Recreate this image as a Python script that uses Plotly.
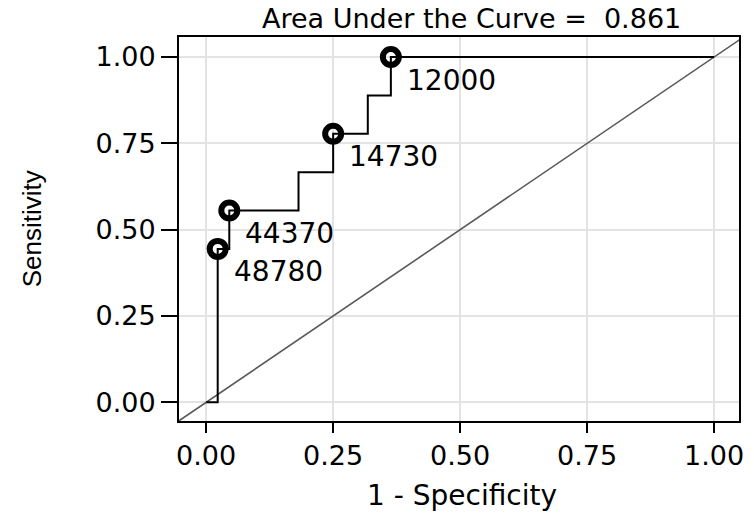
import plotly.graph_objects as go

# ROC curve points (1 - specificity, sensitivity)
roc_fpr = [0.0, 0.0227, 0.0455, 0.1818, 0.25, 0.3182, 0.3636, 1.0]
roc_tpr = [0.0, 0.4444, 0.5556, 0.6667, 0.7778, 0.8889, 1.0, 1.0]

# labelled cut points
cut_labels = ["48780", "44370", "14730", "12000"]
cut_fpr = [0.0227, 0.0455, 0.25, 0.3636]
cut_tpr = [0.4444, 0.5556, 0.7778, 1.0]

auc_value = 0.861
tick_vals = [0, 0.25, 0.5, 0.75, 1.0]
x_range = [-0.0535, 1.049]
y_range = [-0.054, 1.058]
ref_line = [-0.2, 1.2]

FONT = "DejaVu Sans"
FS = 27

fig = go.Figure()
fig.add_trace(go.Scatter(x=ref_line, y=ref_line, mode="lines",
                         line=dict(color="#595959", width=1.6),
                         hoverinfo="skip", showlegend=False))
fig.add_trace(go.Scatter(x=roc_fpr, y=roc_tpr, mode="lines",
                         line=dict(color="black", width=2, shape="hv"),
                         showlegend=False))
fig.add_trace(go.Scatter(x=cut_fpr, y=cut_tpr, mode="markers",
                         marker=dict(symbol="circle-open", size=16, color="black",
                                     line=dict(width=6, color="black")),
                         showlegend=False))

for lab, xv, yv in zip(cut_labels, cut_fpr, cut_tpr):
    fig.add_annotation(x=xv, y=yv, text=lab, showarrow=False,
                       xanchor="left", yanchor="middle", xshift=14, yshift=-23,
                       font=dict(family=FONT, size=28, color="black"))

fig.add_annotation(xref="paper", yref="paper", x=0.5216, y=1.0, yshift=19,
                   text="Area Under the Curve =\u00a0\u00a0" + f"{auc_value:.3f}",
                   showarrow=False, xanchor="center", yanchor="middle",
                   font=dict(family=FONT, size=27, color="black"))
fig.add_annotation(xref="paper", yref="paper", x=0.5053, y=-0.1935,
                   text="1 - Specificity", showarrow=False,
                   xanchor="center", yanchor="middle",
                   font=dict(family=FONT, size=28, color="black"))
fig.add_annotation(xref="paper", yref="paper", x=-0.262, y=0.5,
                   text="Sensitivity", showarrow=False, textangle=-90,
                   xanchor="center", yanchor="middle",
                   font=dict(family="Liberation Sans", size=26, color="black"))

axis_common = dict(
    tickvals=tick_vals, tickformat=".2f",
    showgrid=True, gridcolor="#e3e3e3",
    showline=True, linecolor="black", linewidth=2, mirror=True,
    ticks="outside", tickcolor="black", tickwidth=2,
    zeroline=False,
    tickfont=dict(family=FONT, size=FS, color="black"),
)
fig.update_xaxes(range=x_range, ticklen=10, gridwidth=2, **axis_common)
fig.update_yaxes(range=y_range, ticklen=16, gridwidth=1.5, **axis_common)

fig.update_layout(
    width=754, height=513,
    margin=dict(l=179, r=10, t=37, b=92, pad=0),
    paper_bgcolor="white", plot_bgcolor="white",
    showlegend=False,
)

# remove the page's default body margin so the figure fills the window
fig.write_html("out.html", config={"displayModeBar": False},
               post_script="document.body.style.margin='0px';")
